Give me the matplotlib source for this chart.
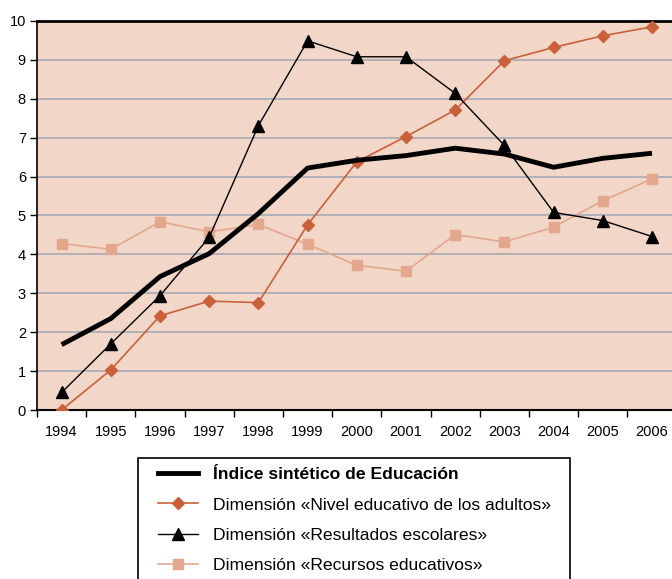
import matplotlib
matplotlib.use("Agg")
import matplotlib.pyplot as plt
import numpy as np
from matplotlib.lines import Line2D
from matplotlib.patches import Rectangle

plt.rcParams['font.family'] = ['Liberation Sans', 'DejaVu Sans']

years = ['1994', '1995', '1996', '1997', '1998', '1999', '2000',
         '2001', '2002', '2003', '2004', '2005', '2006']
indice = [1.68, 2.35, 3.43, 4.02, 5.05, 6.22, 6.42, 6.54, 6.73, 6.58, 6.24, 6.47, 6.60]
nivel = [0.0, 1.03, 2.42, 2.80, 2.76, 4.76, 6.38, 7.03, 7.71, 8.98, 9.32, 9.62, 9.85]
resultados = [0.45, 1.70, 2.94, 4.44, 7.31, 9.49, 9.08, 9.08, 8.14, 6.80, 5.08, 4.87, 4.46]
recursos = [4.28, 4.13, 4.84, 4.58, 4.77, 4.26, 3.72, 3.57, 4.51, 4.32, 4.70, 5.38, 5.94]

labels = ['Índice sintético de Educación',
          'Dimensión «Nivel educativo de los adultos»',
          'Dimensión «Resultados escolares»',
          'Dimensión «Recursos educativos»']

c_nivel = '#C9603A'
c_rec = '#E3A78D'
bg = '#F2D7C9'
grid_c = '#A4AAB4'

fig = plt.figure(figsize=(6.72, 5.79), dpi=100)
W, H = 672, 579
x0, x1 = 37, 676.6
y0, y1 = 410, 21
ax = fig.add_axes([x0 / W, 1 - y0 / H, (x1 - x0) / W, (y0 - y1) / H])
ax.set_facecolor(bg)

x = np.arange(len(years))
ax.plot(x, recursos, color=c_rec, lw=1.2, marker='s', ms=7, mec=c_rec, mfc=c_rec, zorder=3)
ax.plot(x, nivel, color=c_nivel, lw=1.2, marker='D', ms=6, mec=c_nivel, mfc=c_nivel, zorder=4)
ax.plot(x, resultados, color='black', lw=1.0, marker='^', ms=8, zorder=5)
ax.plot(x, indice, color='black', lw=3.5, zorder=6, solid_capstyle='butt')

ax.set_xlim(-0.5, len(years) - 0.5)
ax.set_ylim(0, 10)
ax.set_yticks(range(0, 11))
ax.set_yticklabels([str(i) for i in range(0, 11)], fontsize=10.5)
for i in range(1, 10):
    ax.axhline(i, color=grid_c, lw=1.2, zorder=1)

ax.set_xticks(x)
ax.set_xticklabels(years, fontsize=10.5)
ax.set_xticks(np.arange(-0.5, len(years)), minor=True)
ax.tick_params(axis='x', which='major', length=0, pad=11)
ax.tick_params(axis='x', which='minor', length=5, width=1, direction='out')
ax.tick_params(axis='y', length=5, width=1, direction='out', pad=3)

ax.spines['right'].set_visible(False)
ax.spines['top'].set_linewidth(2.0)
ax.spines['bottom'].set_linewidth(1.5)
ax.spines['left'].set_linewidth(1.2)

# legend frame
fig.patches.append(Rectangle((138 / W, -0.05), (570 - 138) / W, (1 - 458 / H) + 0.05,
                             transform=fig.transFigure, facecolor='white',
                             edgecolor='black', lw=1.2, zorder=1))

handles = [
    Line2D([], [], color='black', lw=3.5),
    Line2D([], [], color=c_nivel, lw=1.2, marker='D', ms=6, mec=c_nivel, mfc=c_nivel),
    Line2D([], [], color='black', lw=1.0, marker='^', ms=8),
    Line2D([], [], color=c_rec, lw=1.2, marker='s', ms=7, mec=c_rec, mfc=c_rec),
]
leg = fig.legend(handles, labels, loc='upper left',
                 bbox_to_anchor=(158 / W, 1 - 467 / H),
                 fontsize=12.6, frameon=False,
                 handlelength=2.3, handletextpad=0.85,
                 labelspacing=0.86, borderpad=0, borderaxespad=0)
leg.set_zorder(2)
leg.get_texts()[0].set_fontweight('bold')

fig.savefig('out.png', dpi=100)
